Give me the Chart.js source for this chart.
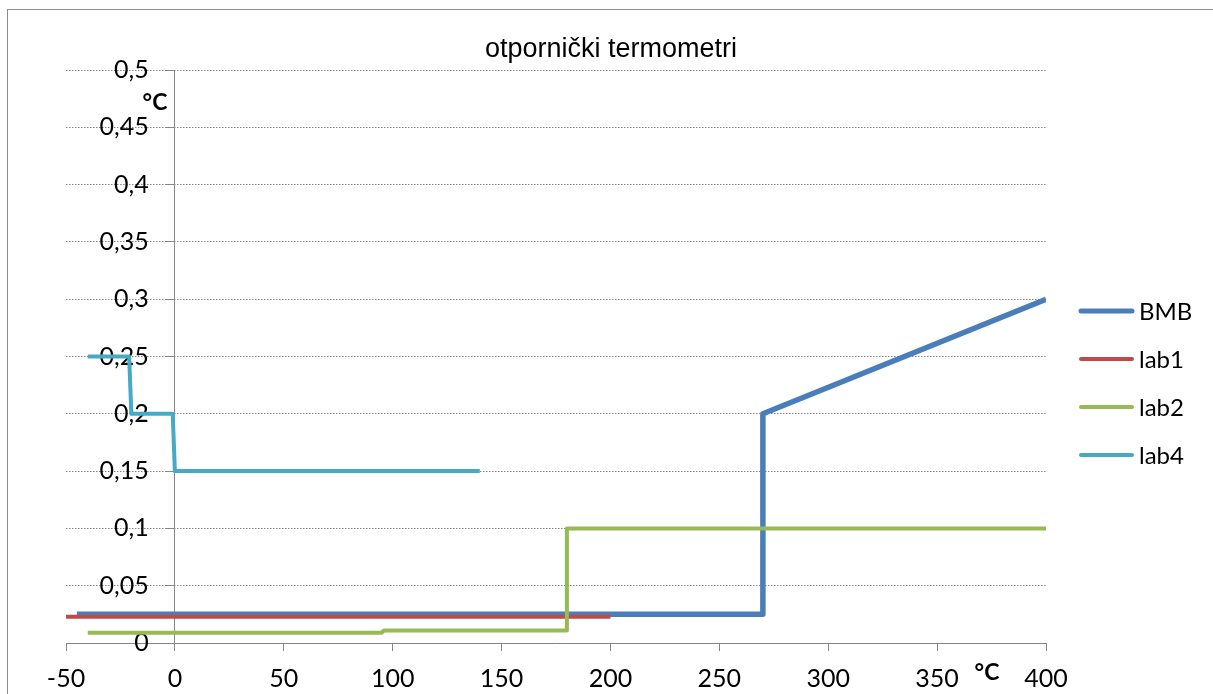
<!DOCTYPE html>
<html>
<head>
<meta charset="utf-8">
<script src="https://cdn.jsdelivr.net/npm/chart.js@4/dist/chart.umd.min.js"></script>
<style>
  html, body { margin: 0; padding: 0; background: #fff; }
  #wrap { width: 1213px; height: 694px; }
</style>
</head>
<body>
<div id="wrap"><canvas id="myChart" width="1213" height="694"></canvas></div>
<script>
// series: x in °C, y in °C
var bmbX = [-45, 270, 270, 400];
var bmbY = [0.025, 0.025, 0.2, 0.3];
var lab1X = [-50, 200];
var lab1Y = [0.023, 0.023];
var lab2X = [-40, 95, 96, 180, 180, 400];
var lab2Y = [0.009, 0.009, 0.011, 0.011, 0.1, 0.1];
var lab4X = [-40, -21, -20, -1, 0, 140];
var lab4Y = [0.25, 0.25, 0.2, 0.2, 0.15, 0.15];

var seriesNames = ['BMB', 'lab1', 'lab2', 'lab4'];
var xTickLabels = ['-50', '0', '50', '100', '150', '200', '250', '300', '350', '400'];
var yTickLabels = ['0', '0,05', '0,1', '0,15', '0,2', '0,25', '0,3', '0,35', '0,4', '0,45', '0,5'];

function pts(xs, ys) {
    return xs.map(function (x, i) { return {x: x, y: ys[i]}; });
}

var tickFont = {family: 'Lato', size: 25};
var gridGrey = '#868686';

// chart frame, title, axis units and legend
var extras = {
    id: 'extras',
    beforeDraw: function (chart) {
        var c = chart.ctx;
        c.save();
        c.fillStyle = '#fff';
        c.fillRect(0, 0, chart.width, chart.height);
        c.strokeStyle = '#8c8c8c';
        c.lineWidth = 1;
        c.strokeRect(7.5, 9.5, chart.width + 20, chart.height + 20);
        c.restore();
    },
    afterDraw: function (chart) {
        var c = chart.ctx;
        c.save();
        c.fillStyle = '#000';
        c.font = '27px "Liberation Sans"';
        c.textAlign = 'center';
        c.textBaseline = 'alphabetic';
        c.fillText('otpornički termometri', 611, 57);

        c.font = 'bold 23px Lato';
        c.textBaseline = 'middle';
        c.fillText('°C', 155, 103);
        c.fillText('°C', 987, 673);

        // legend
        c.textAlign = 'left';
        c.font = '24px Lato';
        chart.data.datasets.forEach(function (ds, i) {
            var y = 311 + i * 48;
            c.strokeStyle = ds.borderColor;
            c.lineWidth = i === 0 ? 5 : 4;
            c.lineCap = 'round';
            c.beginPath();
            c.moveTo(1081, y);
            c.lineTo(1132, y);
            c.stroke();
            c.fillStyle = '#000';
            c.fillText(ds.label, 1139, y + 1);
        });
        c.restore();
    }
};

var ctx = document.getElementById('myChart');
var myChart = new Chart(ctx, {
    type: 'scatter',
    data: {
        datasets: [{
            label: seriesNames[0],
            data: pts(bmbX, bmbY),
            borderColor: '#4A7EBB',
            borderWidth: 5.5,
            order: 4
        }, {
            label: seriesNames[1],
            data: pts(lab1X, lab1Y),
            borderColor: '#BE4B48',
            borderWidth: 4,
            order: 3
        }, {
            label: seriesNames[2],
            data: pts(lab2X, lab2Y),
            borderColor: '#98B954',
            borderWidth: 4,
            order: 2
        }, {
            label: seriesNames[3],
            data: pts(lab4X, lab4Y),
            borderColor: '#46AAC5',
            borderWidth: 4,
            order: 1
        }]
    },
    options: {
        responsive: false,
        animation: false,
        showLine: true,
        elements: {
            point: {radius: 0, hoverRadius: 0},
            line: {tension: 0, borderJoinStyle: 'round', fill: false}
        },
        layout: {padding: {left: 66, right: 167, top: 70, bottom: 0}},
        plugins: {
            legend: {display: false},
            title: {display: false},
            tooltip: {enabled: false}
        },
        scales: {
            x: {
                type: 'linear',
                position: 'bottom',
                min: -50,
                max: 400,
                ticks: {
                    stepSize: 50,
                    font: tickFont,
                    color: '#000',
                    padding: 13,
                    maxRotation: 0,
                    callback: function (v) { return xTickLabels[Math.round((v + 50) / 50)]; }
                },
                grid: {drawOnChartArea: false, color: gridGrey, tickLength: 8},
                border: {color: gridGrey, width: 1},
                afterFit: function (scale) { scale.height = 51; }
            },
            // value axis crossing at x = 0: line, tick marks and dotted grid
            y: {
                type: 'linear',
                position: {x: 0},
                min: 0,
                max: 0.5,
                ticks: {stepSize: 0.05, display: false},
                grid: {color: gridGrey, tickLength: 8, tickBorderDash: []},
                border: {color: gridGrey, width: 1, dash: [1.5, 1.5]}
            },
            // same range, only carries the tick labels a little left of the axis
            yLabels: {
                type: 'linear',
                position: {x: -12},
                min: 0,
                max: 0.5,
                ticks: {
                    stepSize: 0.05,
                    font: tickFont,
                    color: '#000',
                    callback: function (v) { return yTickLabels[Math.round(v / 0.05)]; }
                },
                grid: {display: false},
                border: {display: false}
            }
        }
    },
    plugins: [extras]
});
</script>
</body>
</html>
